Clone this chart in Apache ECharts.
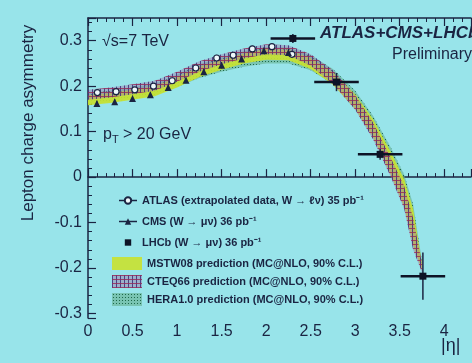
<!DOCTYPE html>
<html>
<head>
<meta charset="utf-8">
<script src="https://cdn.jsdelivr.net/npm/echarts@6/dist/echarts.min.js"></script>
<style>
html, body { margin: 0; padding: 0; background: #98e4ea; }
#chart { width: 472px; height: 363px; }
</style>
</head>
<body>
<div id="chart"></div>
<script>
// theory bands, sampled on a common |eta| grid
let etaGrid  = [0, 0.25, 0.5, 0.75, 1.0, 1.25, 1.5, 1.75, 2.0, 2.25, 2.5, 2.75, 3.0, 3.2, 3.4, 3.55, 3.65, 3.75];
let mstwLow  = [0.158, 0.163, 0.170, 0.178, 0.197, 0.220, 0.236, 0.250, 0.258, 0.257, 0.238, 0.203, 0.150, 0.088, 0.005, -0.065, -0.150, -0.205];
let mstwHigh = [0.180, 0.185, 0.192, 0.200, 0.220, 0.243, 0.258, 0.272, 0.282, 0.280, 0.262, 0.230, 0.182, 0.128, 0.055, -0.005, -0.070, -0.190];
let cteqLow  = [0.170, 0.175, 0.182, 0.190, 0.210, 0.232, 0.248, 0.261, 0.270, 0.268, 0.245, 0.205, 0.148, 0.083, 0.000, -0.070, -0.160, -0.210];
let cteqHigh = [0.192, 0.197, 0.204, 0.212, 0.232, 0.255, 0.270, 0.283, 0.292, 0.290, 0.270, 0.235, 0.180, 0.120, 0.042, -0.020, -0.090, -0.190];
let heraLow  = [0.160, 0.165, 0.172, 0.180, 0.198, 0.218, 0.232, 0.243, 0.250, 0.250, 0.235, 0.205, 0.158, 0.100, 0.022, -0.040, -0.120, -0.205];
let heraHigh = [0.185, 0.190, 0.197, 0.205, 0.225, 0.248, 0.263, 0.277, 0.286, 0.285, 0.268, 0.238, 0.190, 0.135, 0.065, 0.005, -0.060, -0.185];

// measurements
let atlasEta = [0.105, 0.315, 0.525, 0.735, 0.945, 1.21, 1.445, 1.63, 1.845, 2.065, 2.29];
let atlasVal = [0.186, 0.188, 0.192, 0.200, 0.212, 0.240, 0.262, 0.268, 0.282, 0.287, 0.270];
let atlasErr = [0.006, 0.006, 0.006, 0.006, 0.006, 0.006, 0.007, 0.007, 0.007, 0.007, 0.008];

let cmsEta = [0.1, 0.3, 0.5, 0.7, 0.9, 1.1, 1.3, 1.5, 1.725, 1.975, 2.25];
let cmsVal = [0.162, 0.166, 0.173, 0.181, 0.197, 0.213, 0.232, 0.246, 0.260, 0.278, 0.274];
let cmsErr = [0.006, 0.006, 0.006, 0.006, 0.006, 0.006, 0.006, 0.007, 0.007, 0.007, 0.008];

let lhcbEta  = [2.3, 2.79, 3.28, 3.76];
let lhcbVal  = [0.305, 0.209, 0.050, -0.218];
let lhcbErrX = [0.25, 0.25, 0.25, 0.25];
let lhcbErrY = [0.010, 0.020, 0.012, 0.052];

let legendNames = [
    'ATLAS (extrapolated data, W → ℓν) 35 pb⁻¹',
    'CMS (W → μν) 36 pb⁻¹',
    'LHCb (W → μν) 36 pb⁻¹',
    'MSTW08 prediction (MC@NLO, 90% C.L.)',
    'CTEQ66 prediction (MC@NLO, 90% C.L.)',
    'HERA1.0 prediction (MC@NLO, 90% C.L.)'
];

let ink = '#1a2442';
let font = '"Liberation Sans", Arial, sans-serif';

function patternHatch() {
    let c = document.createElement('canvas');
    c.width = 4; c.height = 4;
    let g = c.getContext('2d');
    g.fillStyle = 'rgba(160,115,165,0.45)'; g.fillRect(0, 0, 4, 4);
    g.fillStyle = 'rgba(70,50,125,0.9)';    g.fillRect(0, 0, 1, 4);
    g.fillStyle = 'rgba(150,40,85,0.8)';    g.fillRect(0, 0, 4, 1);
    return { image: c, repeat: 'repeat' };
}

function patternDots() {
    let c = document.createElement('canvas');
    c.width = 3; c.height = 3;
    let g = c.getContext('2d');
    g.fillStyle = 'rgba(100,175,140,0.6)'; g.fillRect(0, 0, 3, 3);
    g.fillStyle = 'rgba(25,100,70,0.95)';  g.fillRect(1, 1, 1, 1);
    return { image: c, repeat: 'repeat' };
}

let fillMstw = 'rgba(200,226,50,0.92)';
let fillCteq = patternHatch();
let fillHera = patternDots();

function bandRenderer(low, high, fill) {
    return function (params, api) {
        if (params.dataIndex !== 0) return null;
        let pts = [];
        for (let i = 0; i < etaGrid.length; i++) pts.push(api.coord([etaGrid[i], high[i]]));
        for (let i = etaGrid.length - 1; i >= 0; i--) pts.push(api.coord([etaGrid[i], low[i]]));
        return { type: 'polygon', shape: { points: pts }, style: { fill: fill, stroke: null } };
    };
}

function bandSeries(name, low, high, fill) {
    return {
        name: name,
        type: 'custom',
        renderItem: bandRenderer(low, high, fill),
        itemStyle: { color: fill },
        data: [[etaGrid[0], low[0]]],
        silent: true,
        z: 2
    };
}

function errorSeries(eta, val, errX, errY, width) {
    let d = [];
    for (let i = 0; i < eta.length; i++) d.push([eta[i], val[i], errX ? errX[i] : 0, errY[i]]);
    return {
        type: 'custom',
        silent: true,
        z: 4,
        renderItem: function (params, api) {
            let x = api.value(0), y = api.value(1), ex = api.value(2), ey = api.value(3);
            let children = [];
            let a = api.coord([x, y - ey]), b = api.coord([x, y + ey]);
            children.push({ type: 'line', shape: { x1: a[0], y1: a[1], x2: b[0], y2: b[1] },
                style: { stroke: ink, lineWidth: width } });
            if (ex > 0) {
                let l = api.coord([x - ex, y]), r = api.coord([x + ex, y]);
                children.push({ type: 'line', shape: { x1: l[0], y1: l[1], x2: r[0], y2: r[1] },
                    style: { stroke: '#0d1326', lineWidth: 2.5 } });
            }
            return { type: 'group', children: children };
        },
        data: d
    };
}

function pairs(xs, ys) {
    return xs.map(function (x, i) { return [x, ys[i]]; });
}

let axisCommon = {
    type: 'value',
    axisLine: { show: true, lineStyle: { color: ink, width: 1.5 } },
    axisTick: { show: true, inside: true, length: 8, lineStyle: { color: ink, width: 1.2 } },
    minorTick: { show: true, splitNumber: 5, length: 4, lineStyle: { color: ink, width: 1 } },
    splitLine: { show: false }
};

let legendText = { color: ink, fontSize: 11, fontWeight: 'bold', fontFamily: font };

let chart = echarts.init(document.getElementById('chart'), null, { renderer: 'canvas' });

let option = {
    backgroundColor: '#98e4ea',
    animation: false,
    textStyle: { fontFamily: font },
    grid: { left: 88, right: 1, top: 18, bottom: 45, containLabel: false, outerBoundsMode: 'none' },
    xAxis: [
        Object.assign({}, axisCommon, {
            min: 0, max: 4.3, interval: 0.5,
            axisLabel: { color: ink, fontSize: 16, margin: 6, fontFamily: font, showMaxLabel: false }
        }),
        Object.assign({}, axisCommon, {
            position: 'top', min: 0, max: 4.3, interval: 0.5,
            axisLabel: { show: false }
        })
    ],
    yAxis: Object.assign({}, axisCommon, {
        min: -0.31, max: 0.35, splitNumber: 7,
        axisLabel: {
            color: ink, fontSize: 16, margin: 6, fontFamily: font,
            showMinLabel: false, showMaxLabel: false,
            formatter: function (v) { return Math.abs(v) < 1e-9 ? '0' : String(Math.round(v * 10) / 10); }
        }
    }),
    legend: [
        {
            orient: 'vertical',
            left: 113, top: 190,
            itemWidth: 18, itemHeight: 8, itemGap: 10, itemTextGap: 12,
            selectedMode: false,
            textStyle: legendText,
            data: [
                { name: legendNames[0], lineStyle: { width: 1.5, color: ink, opacity: 1 } },
                { name: legendNames[1], lineStyle: { width: 1.5, color: ink, opacity: 1 } },
                { name: legendNames[2], lineStyle: { opacity: 0 } }
            ]
        },
        {
            orient: 'vertical',
            left: 107, top: 252,
            itemWidth: 30, itemHeight: 13, itemGap: 5, itemTextGap: 8,
            selectedMode: false,
            textStyle: legendText,
            data: [
                { name: legendNames[3], icon: 'rect', itemStyle: { color: fillMstw } },
                { name: legendNames[4], icon: 'rect', itemStyle: { color: fillCteq } },
                { name: legendNames[5], icon: 'rect', itemStyle: { color: fillHera } }
            ]
        }
    ],
    series: [
        bandSeries(legendNames[5], heraLow, heraHigh, fillHera),
        bandSeries(legendNames[3], mstwLow, mstwHigh, fillMstw),
        bandSeries(legendNames[4], cteqLow, cteqHigh, fillCteq),
        errorSeries(atlasEta, atlasVal, null, atlasErr, 1),
        errorSeries(cmsEta, cmsVal, null, cmsErr, 1),
        errorSeries(lhcbEta, lhcbVal, lhcbErrX, lhcbErrY, 1.5),
        {
            name: legendNames[0],
            type: 'line',
            data: pairs(atlasEta, atlasVal),
            symbol: 'circle', symbolSize: 6, showAllSymbol: true,
            lineStyle: { opacity: 0 },
            itemStyle: { color: '#eef8fb', borderColor: ink, borderWidth: 1.2 },
            z: 5
        },
        {
            name: legendNames[1],
            type: 'line',
            data: pairs(cmsEta, cmsVal),
            symbol: 'triangle', symbolSize: 7, showAllSymbol: true,
            lineStyle: { opacity: 0 },
            itemStyle: { color: ink },
            z: 5
        },
        {
            name: legendNames[2],
            type: 'line',
            data: pairs(lhcbEta, lhcbVal),
            symbol: 'rect', symbolSize: 7, showAllSymbol: true,
            lineStyle: { opacity: 0 },
            itemStyle: { color: '#0d1326' },
            z: 6
        }
    ],
    graphic: [
        {
            type: 'text', x: 28, y: 123, rotation: Math.PI / 2,
            style: { text: 'Lepton charge asymmetry', fill: ink, font: '17px ' + font, align: 'center', verticalAlign: 'middle' }
        },
        {
            type: 'text', x: 102, y: 42,
            style: { text: '√s=7 TeV', fill: ink, font: '16px ' + font, verticalAlign: 'middle' }
        },
        {
            type: 'text', x: 103, y: 135,
            style: {
                text: '{p|p}{t|T}{p| > 20 GeV}',
                verticalAlign: 'middle',
                rich: {
                    p: { fill: ink, font: '16px ' + font },
                    t: { fill: ink, font: '11px ' + font, padding: [10, 0, 0, 0] }
                }
            }
        },
        {
            type: 'text', x: 320, y: 33,
            style: { text: 'ATLAS+CMS+LHCb', fill: ink, font: 'italic bold 17px ' + font, verticalAlign: 'middle' }
        },
        {
            type: 'text', x: 392, y: 55,
            style: { text: 'Preliminary', fill: ink, font: '16px ' + font, verticalAlign: 'middle' }
        },
        {
            type: 'text', x: 441, y: 346,
            style: { text: '|η|', fill: ink, font: '18px ' + font, verticalAlign: 'middle' }
        }
    ]
};

chart.setOption(option);
</script>
</body>
</html>
